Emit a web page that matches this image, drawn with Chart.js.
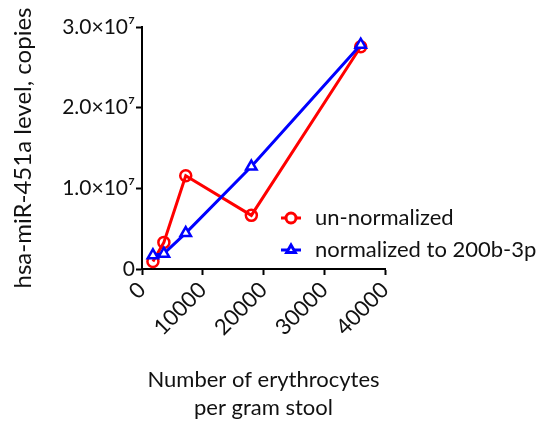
<!DOCTYPE html>
<html>
<head>
<meta charset="utf-8">
<script src="https://cdn.jsdelivr.net/npm/chart.js@4"></script>
<style>
  html, body { margin: 0; padding: 0; background: #fff; }
  #wrap { width: 554px; height: 422px; }
</style>
</head>
<body>
<div id="wrap"><canvas id="chart" width="554" height="422"></canvas></div>
<script>
// erythrocytes per gram stool (x) and miR-451a copies (y)
const cellCounts = [1800, 3600, 7200, 18000, 36000];
const unNormalized = [0.094e7, 0.33e7, 1.155e7, 0.665e7, 2.755e7];
const normalized200b = [0.17e7, 0.19e7, 0.445e7, 1.27e7, 2.78e7];
const seriesNames = ['un-normalized', 'normalized to 200b-3p'];
const xTicks = [0, 10000, 20000, 30000, 40000];
const yTicks = [0, 1e7, 2e7, 3e7];

const FONT = 'Lato, "Open Sans", sans-serif';
const RED = '#ff0000';
const BLUE = '#0000ff';

const toPoints = (ys) => cellCounts.map((x, i) => ({ x: x, y: ys[i] }));

// legend drawn inside the plot, to the right
const legendPlugin = {
    id: 'sideLegend',
    afterDraw(chart) {
        const ctx = chart.ctx;
        const items = [
            { label: seriesNames[0], color: RED, style: 'circle', y: 218 },
            { label: seriesNames[1], color: BLUE, style: 'triangle', y: 250 }
        ];
        ctx.save();
        items.forEach(it => {
            ctx.strokeStyle = it.color;
            ctx.lineWidth = 3;
            ctx.beginPath();
            ctx.moveTo(281, it.y);
            ctx.lineTo(301, it.y);
            ctx.stroke();
            ctx.fillStyle = '#fff';
            Chart.helpers.drawPoint(ctx, {
                pointStyle: it.style, radius: 5, borderWidth: 2.5
            }, 291, it.y);
            ctx.fillStyle = '#111';
            ctx.font = '22px ' + FONT;
            ctx.textBaseline = 'middle';
            ctx.fillText(it.label, 315, it.y);
        });
        ctx.restore();
    }
};

new Chart(document.getElementById('chart'), {
    type: 'line',
    data: {
        datasets: [{
            label: seriesNames[1],
            data: toPoints(normalized200b),
            borderColor: BLUE,
            backgroundColor: 'transparent',
            borderWidth: 3,
            pointStyle: 'triangle',
            pointRadius: 6,
            pointBorderWidth: 2.5,
            pointBackgroundColor: '#fff',
            tension: 0
        }, {
            label: seriesNames[0],
            data: toPoints(unNormalized),
            borderColor: RED,
            backgroundColor: 'transparent',
            borderWidth: 3,
            pointStyle: 'circle',
            pointRadius: 5.5,
            pointBorderWidth: 2.5,
            pointBackgroundColor: 'rgba(255,255,255,0)',
            tension: 0
        }]
    },
    options: {
        responsive: false,
        animation: false,
        clip: false,
        layout: { padding: { top: 27, right: 169, left: 0, bottom: 0 } },
        plugins: {
            legend: { display: false },
            tooltip: { enabled: false }
        },
        scales: {
            x: {
                type: 'linear',
                min: 0,
                max: 40000,
                afterBuildTicks: (s) => { s.ticks = xTicks.map(v => ({ value: v })); },
                afterFit: (s) => { s.height = 153; },
                ticks: {
                    minRotation: 45,
                    maxRotation: 45,
                    color: '#111',
                    padding: 2,
                    font: { family: FONT, size: 22 },
                    callback: (v) => String(v)
                },
                grid: {
                    drawOnChartArea: false,
                    tickLength: 6,
                    tickColor: '#000',
                    tickWidth: 2
                },
                border: { color: '#000', width: 2 },
                title: {
                    display: true,
                    text: ['Number of erythrocytes', 'per gram stool'],
                    color: '#111',
                    font: { family: FONT, size: 22, lineHeight: 1.27 },
                    padding: { top: 0, bottom: 0 }
                }
            },
            y: {
                min: 0,
                max: 3e7,
                afterBuildTicks: (s) => { s.ticks = yTicks.map(v => ({ value: v })); },
                afterFit: (s) => { s.width = 142; },
                ticks: {
                    color: '#111',
                    padding: 1,
                    font: { family: FONT, size: 21 },
                    callback: (v) => v === 0 ? '0' : (v / 1e7).toFixed(1) + '×10⁷'
                },
                grid: {
                    drawOnChartArea: false,
                    tickLength: 6,
                    tickColor: '#000',
                    tickWidth: 2
                },
                border: { color: '#000', width: 2 },
                title: {
                    display: true,
                    text: 'hsa-miR-451a level, copies',
                    color: '#111',
                    font: { family: FONT, size: 24 },
                    padding: { top: 9, bottom: 0 }
                }
            }
        }
    },
    plugins: [legendPlugin]
});
</script>
</body>
</html>
